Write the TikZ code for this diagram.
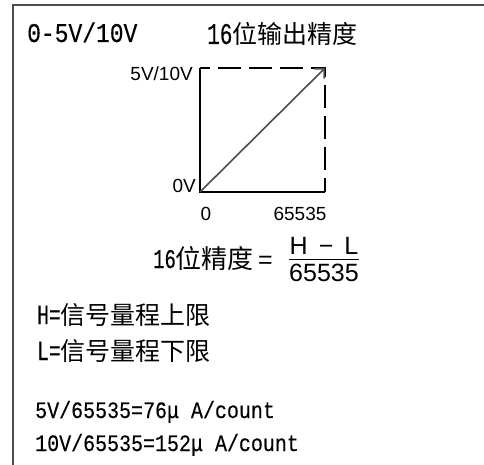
\documentclass[tikz,border=0pt]{standalone}
\usepackage{fontspec}
\setsansfont{Liberation Sans}
\newfontfamily\cjk{Noto Sans CJK SC}
\newfontfamily\monof[FakeStretch=0.85,FakeBold=0.3]{Liberation Mono}
\newfontfamily\monon[FakeStretch=0.7,FakeBold=0.3]{Liberation Mono}
\usetikzlibrary{arrows.meta}
\newcommand{\fsz}[1]{\fontsize{#1pt}{#1pt}\selectfont}
\tikzset{
  txt/.style={inner sep=0pt, anchor=base west},
  mono/.style={txt, font=\fsz{23.5}\monof},
  axislbl/.style={inner sep=0pt, font=\fsz{19}\sffamily},
  frac/.style={inner sep=0pt, anchor=base, font=\fsz{25}\sffamily},
  frame/.style={line width=2.5pt, draw=black!70},
  axisline/.style={line width=1.6pt},
  dashline/.style={line width=1.6pt, dash pattern=on 23pt off 8pt, dash phase=13pt},
  diag/.style={line width=1.6pt, draw=black!70, -{Straight Barb[length=7pt,width=14pt]}},
  fracbar/.style={line width=1.5pt}
}
\begin{document}
\begin{tikzpicture}[x=1pt, y=-1pt]
\useasboundingbox (0,0) rectangle (484,465);
\draw[frame] (13,465) |- (484,5);
% heading
\node[txt, font=\fsz{27}\monof] (range) at (27,42) {0-5V/10V};
\node[txt, font=\fsz{30}\monon] (title) at (207,44) {16{\cjk\fsz{25}位输出精度}};
% plot
\coordinate (o) at (200,192);
\coordinate (tr) at (325,68);
\draw[axisline] (o |- tr) -- (o) -- (o -| tr);
\draw[dashline] (o |- tr) -- (tr) -- (o -| tr);
\draw[diag] (o) -- (tr);
\node[axislbl, anchor=base east] (vmax) at (193,81) {5V/10V};
\node[axislbl, anchor=base east] (vmin) at (196,193) {0V};
\node[axislbl, anchor=base] (cmin) at (206,220) {0};
\node[axislbl, anchor=base] (cmax) at (300,220) {65535};
% formula
\node[txt, font=\fsz{27}\monon] (prec) at (153,268) {16{\cjk\fsz{26}位精度}{\sffamily\fsz{25}\,=}};
\node[frac] (num) at (324,254) {H \,− \,L};
\node[frac] (den) at (324,281) {65535};
\draw[fracbar] ([yshift=4pt]den.north west) -- ([yshift=4pt]den.north east);
% legend
\node[txt, font=\fsz{28}\monon] (hdef) at (37,324) {H={\cjk\fsz{25}信号量程上限}};
\node[txt, font=\fsz{28}\monon] (ldef) at (37,360) {L={\cjk\fsz{25}信号量程下限}};
\node[mono] (res5) at (35,418) {5V/65535=76μ A/count};
\node[mono] (res10) at (35,451) {10V/65535=152μ A/count};
\end{tikzpicture}
\end{document}
